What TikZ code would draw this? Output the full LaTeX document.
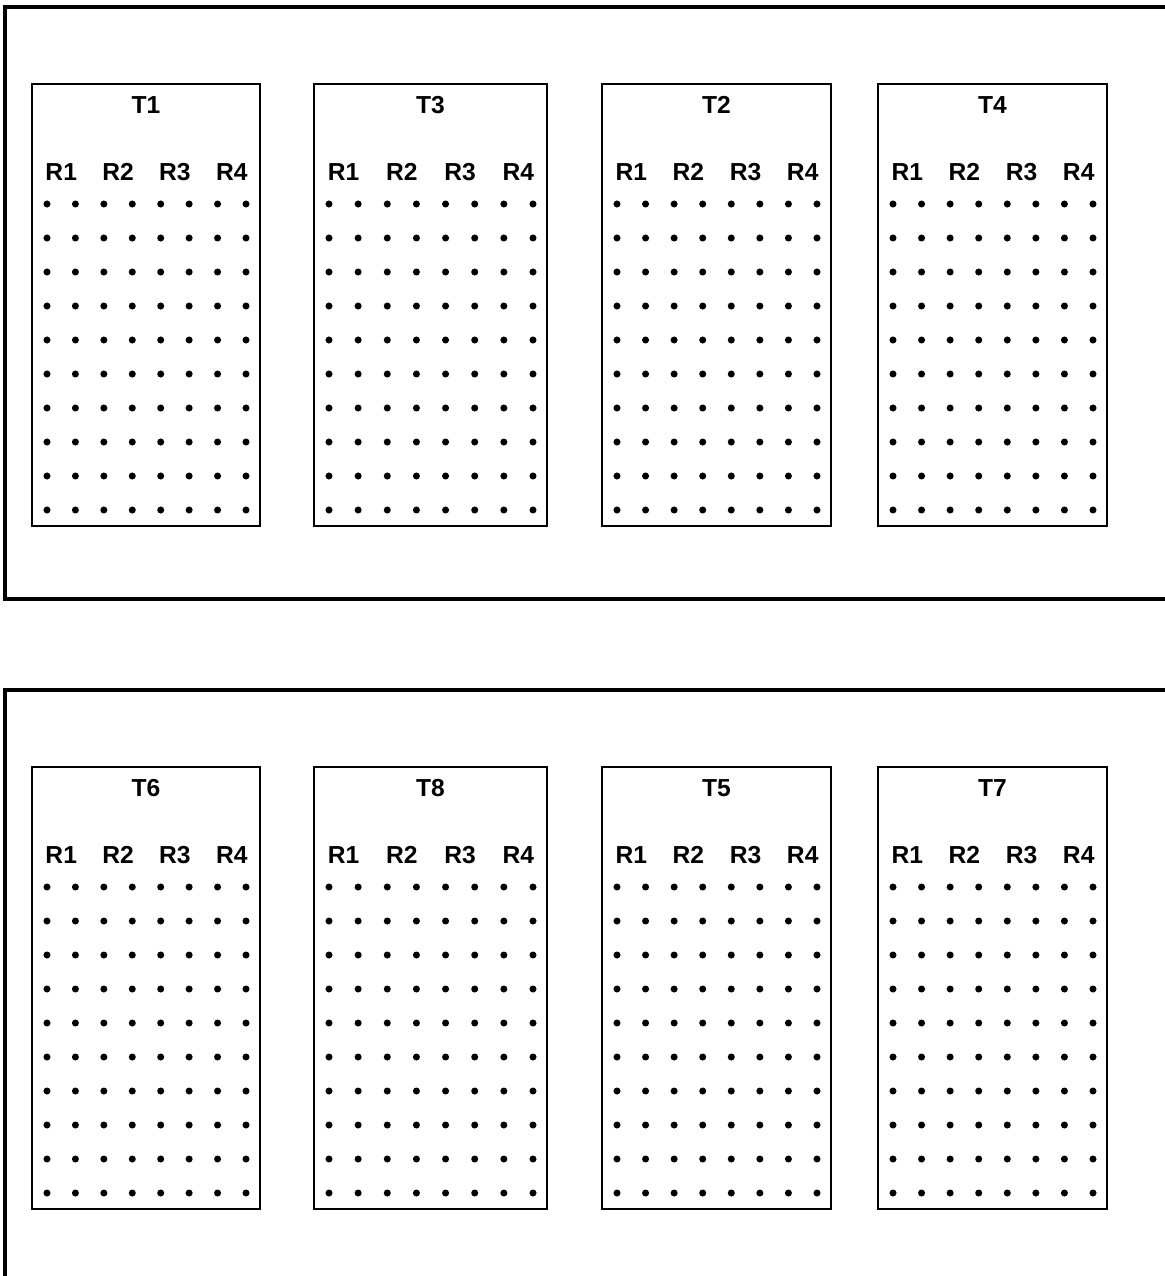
\documentclass[tikz,border=0pt]{standalone}
\usepackage{fontspec}
\setmainfont{Liberation Sans}
\begin{document}
\begin{tikzpicture}[x=0.02cm, y=-0.02cm,
    field/.style={line width=1.8pt},
    plotbox/.style={line width=1.6pt},
    title/.style={font=\bfseries\fontsize{14}{16}\selectfont, inner sep=0pt},
    rep/.style={title},
    pt/.style={fill=black}
]
\useasboundingbox (0,0) rectangle (1165,1276);
% outer fields
\draw[field] (1165,7) -- (5,7) -- (5,599) -- (1165,599);
\draw[field] (1165,690) -- (5,690) -- (5,1276);
% treatment plots with four replicates each
\foreach \tname/\px/\pw/\py in {T1/32/228/84, T3/314/233/84, T2/602/229/84, T4/878/229/84,
                                T6/32/228/767, T8/314/233/767, T5/602/229/767, T7/878/229/767} {
  \pgfmathsetmacro{\dx}{(\pw-29)/7}
  \draw[plotbox] (\px,\py) rectangle ++(\pw,442);
  \node[title] (\tname) at ({\px+\pw/2},{\py+21}) {\tname};
  \foreach \r in {1,...,4}
    \node[rep] (\tname-R\r) at ({\px+15+\dx*(2*\r-1.5)},{\py+88}) {R\r};
  \foreach \i in {0,...,7}
    \foreach \j in {0,...,9}
      \fill[pt] ({\px+15+\dx*\i},{\py+120+34*\j}) circle[radius=2pt];
}
\end{tikzpicture}
\end{document}
